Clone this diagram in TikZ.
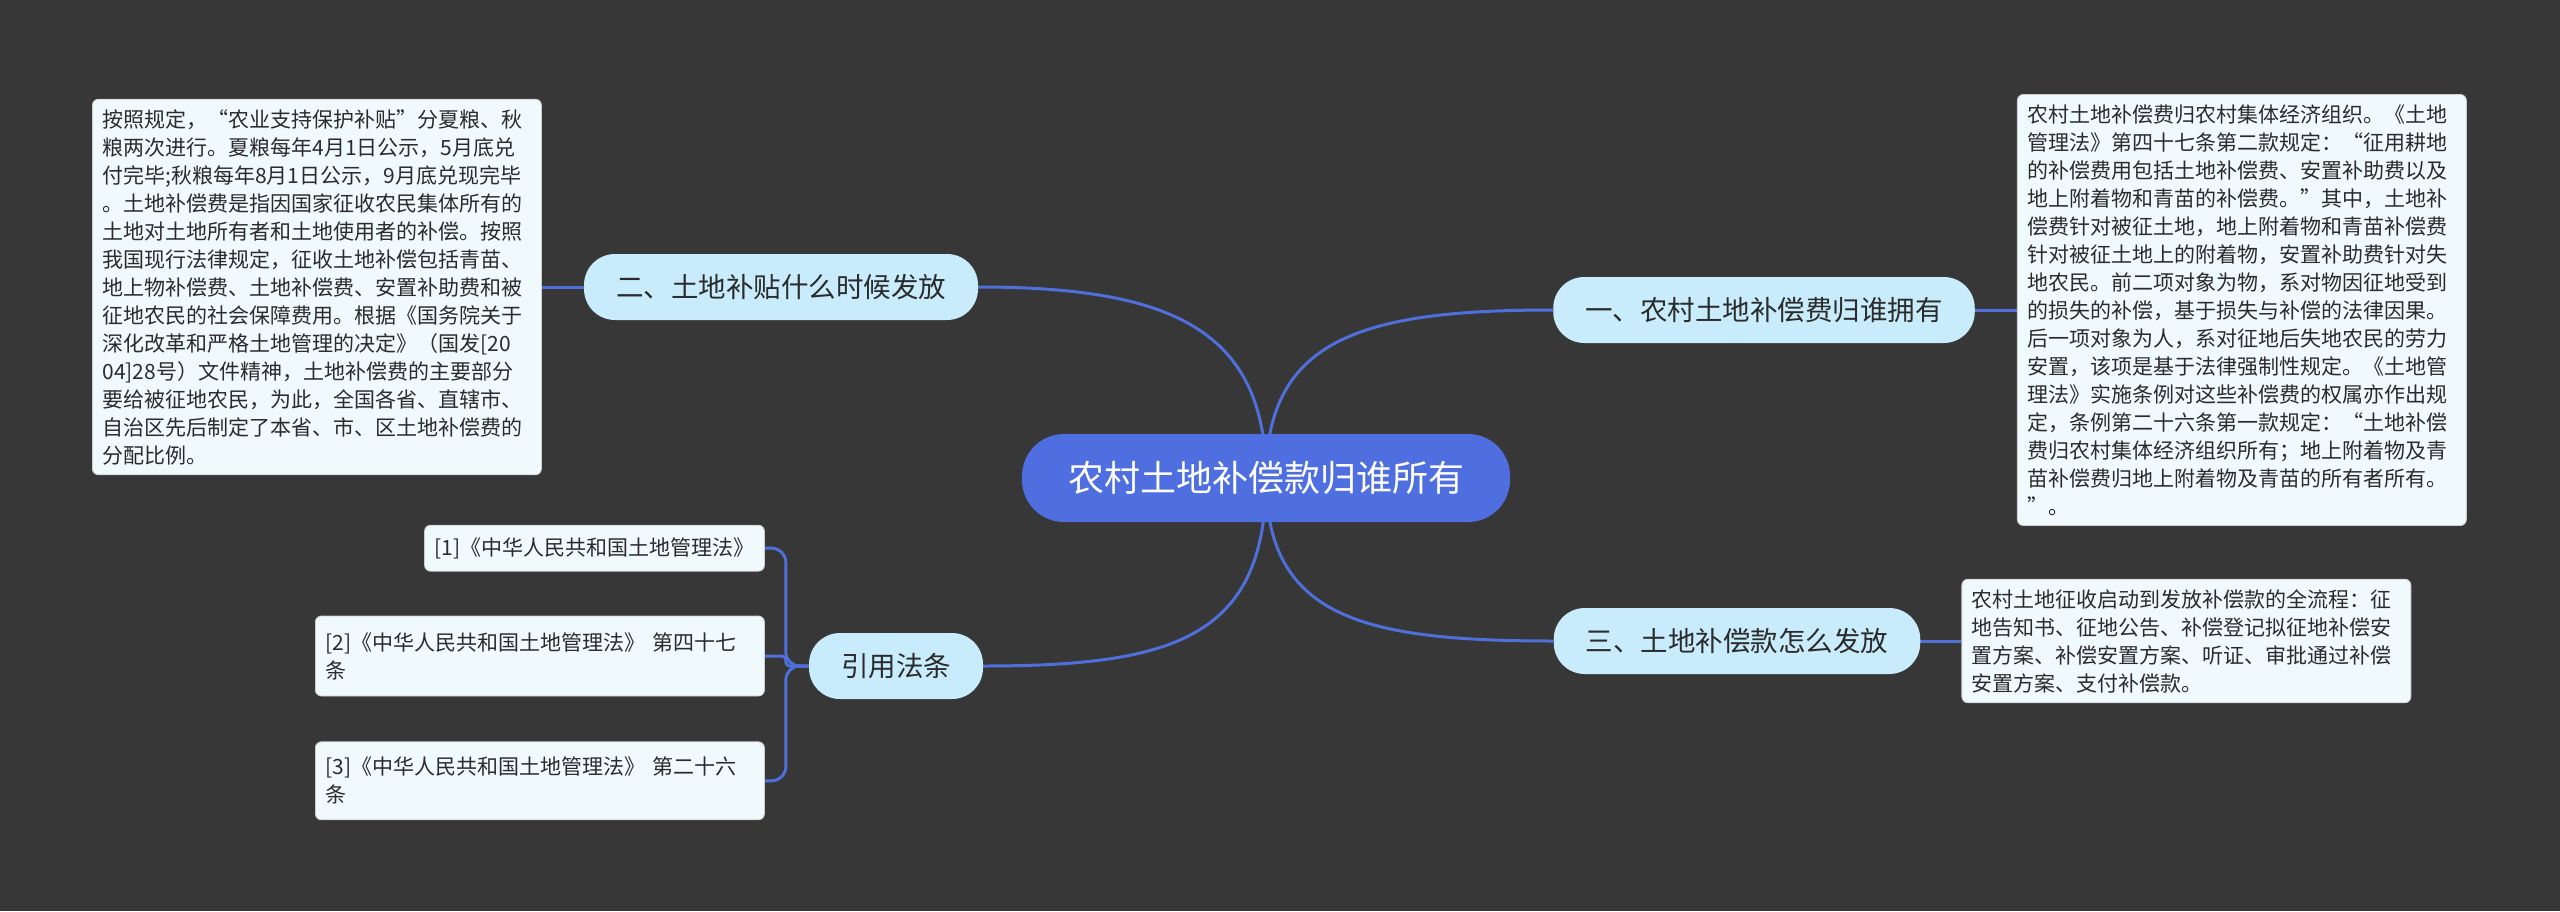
\documentclass[tikz,border=0pt]{standalone}
\usepackage{fontspec}
\setmainfont{Noto Sans CJK SC}
\usepackage{tikz}
\usetikzlibrary{positioning, backgrounds}

\definecolor{bgdark}{HTML}{373737}
\definecolor{rootblue}{HTML}{4F6FE0}
\definecolor{branchfill}{HTML}{C8ECFC}
\definecolor{notefill}{HTML}{F0FAFD}
\definecolor{linkblue}{HTML}{4F6FDA}
\definecolor{inkdark}{HTML}{2B2B2B}

\begin{document}
\begin{tikzpicture}[x=1pt, y=-1pt,
    % central topic
    topic/.style={rectangle, fill=rootblue, rounded corners=42pt,
                  minimum height=88pt, inner xsep=46pt, text=white,
                  font=\fontsize{36pt}{40pt}\selectfont},
    % first level branches
    branch/.style={rectangle, fill=branchfill, rounded corners=31pt,
                   minimum height=66pt, inner xsep=32pt, text=inkdark,
                   font=\fontsize{27.5pt}{32pt}\selectfont},
    % text boxes hanging off the branches
    refbox/.style={rectangle, fill=notefill, draw=gray!40, line width=0.8pt,
                   rounded corners=6pt, inner xsep=10pt, inner ysep=10pt,
                   align=left, text=inkdark,
                   font=\fontsize{21pt}{28pt}\selectfont},
    notebox/.style={refbox, text width=429pt},
    link/.style={draw=linkblue, line width=3pt}
]

%-------- CENTRE AND BRANCHES --------
\node[topic] (root) at (1266,478) {农村土地补偿款归谁所有};
\node[branch] (one)   at (1764,310) {一、农村土地补偿费归谁拥有};
\node[branch] (two)   at (781,287)  {二、土地补贴什么时候发放};
\node[branch] (three) at (1737,641) {三、土地补偿款怎么发放};
\node[branch] (law)   at (896,666)  {引用法条};

%-------- TEXT BOXES --------
\node[notebox, right=42pt of one] (ownnote)
    {农村土地补偿费归农村集体经济组织。《土地\\
     管理法》第四十七条第二款规定：“征用耕地\\
     的补偿费用包括土地补偿费、安置补助费以及\\
     地上附着物和青苗的补偿费。”其中，土地补\\
     偿费针对被征土地，地上附着物和青苗补偿费\\
     针对被征土地上的附着物，安置补助费针对失\\
     地农民。前二项对象为物，系对物因征地受到\\
     的损失的补偿，基于损失与补偿的法律因果。\\
     后一项对象为人，系对征地后失地农民的劳力\\
     安置，该项是基于法律强制性规定。《土地管\\
     理法》实施条例对这些补偿费的权属亦作出规\\
     定，条例第二十六条第一款规定：“土地补偿\\
     费归农村集体经济组织所有；地上附着物及青\\
     苗补偿费归地上附着物及青苗的所有者所有。\\
     ”。};
\node[notebox, left=42pt of two] (paynote)
    {按照规定，“农业支持保护补贴”分夏粮、秋\\
     粮两次进行。夏粮每年4月1日公示，5月底兑\\
     付完毕;秋粮每年8月1日公示，9月底兑现完毕\\
     。土地补偿费是指因国家征收农民集体所有的\\
     土地对土地所有者和土地使用者的补偿。按照\\
     我国现行法律规定，征收土地补偿包括青苗、\\
     地上物补偿费、土地补偿费、安置补助费和被\\
     征地农民的社会保障费用。根据《国务院关于\\
     深化改革和严格土地管理的决定》（国发[20\\
     04]28号）文件精神，土地补偿费的主要部分\\
     要给被征地农民，为此，全国各省、直辖市、\\
     自治区先后制定了本省、市、区土地补偿费的\\
     分配比例。};
\node[notebox, right=41pt of three] (flownote)
    {农村土地征收启动到发放补偿款的全流程：征\\
     地告知书、征地公告、补偿登记拟征地补偿安\\
     置方案、补偿安置方案、听证、审批通过补偿\\
     安置方案、支付补偿款。};

%-------- REFERENCES --------
\node[notebox, minimum height=80pt, left=44pt of law, yshift=10pt] (ref2)
    {[2]《中华人民共和国土地管理法》 第四十七\\条};
\node[refbox, minimum height=46pt, above=44pt of ref2.north east,
      anchor=south east] (ref1)
    {[1]《中华人民共和国土地管理法》};
\node[notebox, minimum height=78pt, below=45pt of ref2.south east,
      anchor=north east] (ref3)
    {[3]《中华人民共和国土地管理法》 第二十六\\条};

%-------- CONNECTORS --------
\begin{scope}[on background layer]
\fill[bgdark] (0,0) rectangle (2560,911);
\draw[link] (root.center) .. controls +(0,-150) and +(190,0)  .. (two.east);
\draw[link] (root.center) .. controls +(0,-140) and +(-190,0) .. (one.west);
\draw[link] (root.center) .. controls +(0,140)  and +(-190,0) .. (three.west);
\draw[link] (root.center) .. controls +(0,160)  and +(190,0)  .. (law.east);
\draw[link] (two)   -- (paynote);
\draw[link] (one)   -- (ownnote);
\draw[link] (three) -- (flownote);
\draw[link, rounded corners=14pt] (law.west) -- ++(-23,0) |- (ref1.east);
\draw[link, rounded corners=14pt] (law.west) -- ++(-23,0) |- (ref3.east);
\draw[link, rounded corners=4pt]  (law.west) -- ++(-23,0) |- (ref2.east);
\end{scope}

\useasboundingbox (0,0) rectangle (2560,911);
\end{tikzpicture}
\end{document}
